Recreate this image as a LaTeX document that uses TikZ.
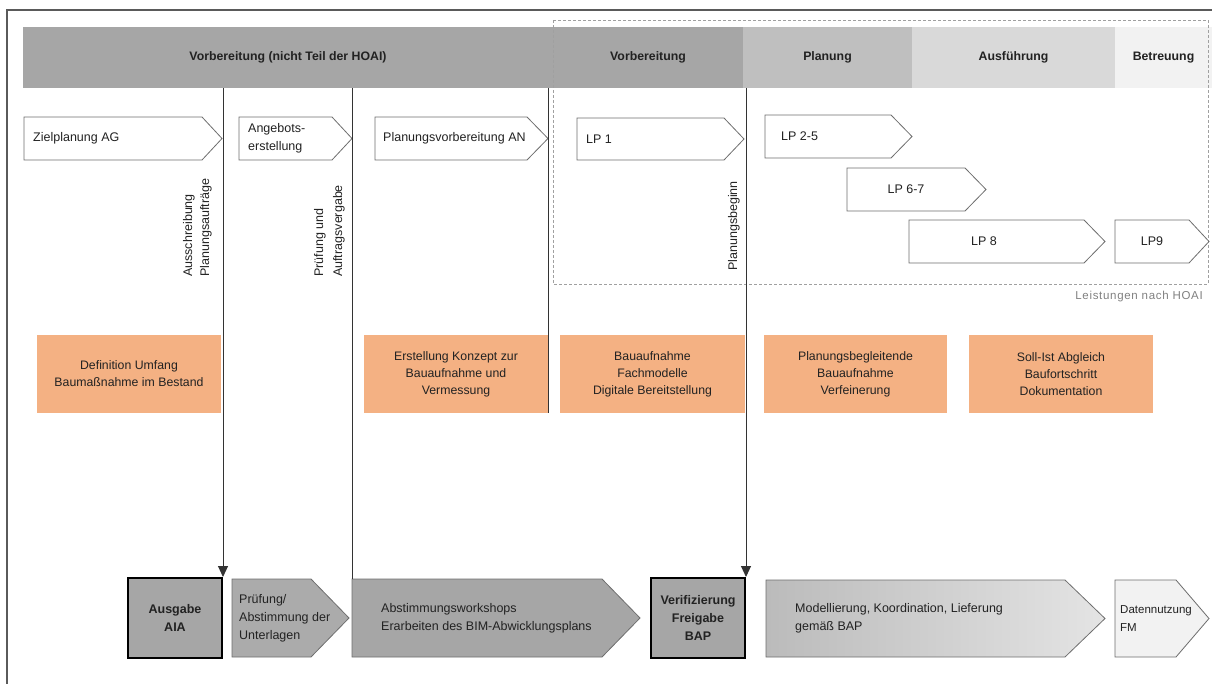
\documentclass[tikz,border=0pt]{standalone}
\usepackage{fontspec}
\setmainfont{Liberation Sans}
\usetikzlibrary{arrows.meta}
\definecolor{hdrA}{HTML}{A6A6A6}
\definecolor{hdrB}{HTML}{BFBFBF}
\definecolor{hdrC}{HTML}{D9D9D9}
\definecolor{hdrD}{HTML}{F2F2F2}
\definecolor{orng}{HTML}{F4B183}
\definecolor{txtc}{HTML}{222222}
\definecolor{edgec}{HTML}{6E6E6E}
\definecolor{gboxA}{HTML}{A6A6A6}
\definecolor{gboxB}{HTML}{ABABAB}
\definecolor{mgL}{HTML}{BBBBBB}
\definecolor{mgR}{HTML}{E4E4E4}
\definecolor{framec}{HTML}{5A5A5A}
\definecolor{linec}{HTML}{333333}
\definecolor{dashc}{HTML}{A0A0A0}
\definecolor{leistc}{HTML}{808080}
\newcommand\mkchev[7]{% name, style, x1, y1, xtip, y2, depth
  \path[#2] (#3,#4) -- ({#5-#7},#4) -- (#5,{(#4+#6)/2}) -- ({#5-#7},#6) -- (#3,#6) -- cycle;
  \coordinate (#1-nw) at (#3,#4);
  \coordinate (#1-w) at (#3,{(#4+#6)/2});
  \coordinate (#1-tip) at (#5,{(#4+#6)/2});
  \coordinate (#1-c) at ({(#3+#5-#7)/2},{(#4+#6)/2});
}
\tikzset{
  hdr/.style={fill=#1, draw=none, minimum height=61pt, inner sep=0pt,
    font=\fontsize{12.3}{14}\selectfont\bfseries, text=txtc},
  rowone/.style={draw=edgec, fill=white, line width=0.8pt},
  lowchev/.style={draw=edgec, fill=#1, line width=0.8pt},
  txt/.style={inner sep=0pt, text=txtc, font=\fontsize{12.5}{18}\selectfont},
  rottxt/.style={inner sep=0pt, text=txtc, rotate=90, align=left, font=\fontsize{12.5}{17}\selectfont},
  obox/.style={fill=orng, draw=none, minimum height=78pt, inner sep=0pt, align=center,
    text=txtc, font=\fontsize{12.3}{17}\selectfont},
  keybox/.style={fill=gboxA, draw=black, line width=2pt, minimum width=94pt, minimum height=80pt,
    inner sep=0pt, align=center, text=txtc, font=\fontsize{12.5}{18}\selectfont\bfseries},
  conn/.style={draw=linec, line width=1pt},
  tip/.style={-{Triangle[length=11pt,width=10pt]}},
  dashbox/.style={draw=dashc, line width=0.8pt, dash pattern=on 3pt off 2pt}
}
\begin{document}
\begin{tikzpicture}[x=1pt,y=-1pt]
\useasboundingbox (0,0) rectangle (1212,684);
% outer frame
\draw[framec, line width=1.2pt] (7,684) -- (7,10) -- (1212,10);
% header band
\node[hdr=hdrA, minimum width=530pt] (h1) at (288,57.5) {Vorbereitung (nicht Teil der HOAI)};
\node[hdr=hdrA, minimum width=190pt] (h2) at (648,57.5) {Vorbereitung};
\node[hdr=hdrB, minimum width=169pt] (h3) at (827.5,57.5) {Planung};
\node[hdr=hdrC, minimum width=203pt] (h4) at (1013.5,57.5) {Ausführung};
\node[hdr=hdrD, minimum width=97pt] (h5) at (1163.5,57.5) {Betreuung};
% HOAI dashed box
\draw[dashbox] (553,20) rectangle (1208,284);
\node[anchor=east, inner sep=0pt, text=leistc, font=\fontsize{11.5}{13}\selectfont\addfontfeature{LetterSpace=6}] (leist) at (1203,297) {Leistungen nach HOAI};
% row one chevrons
\mkchev{ziel}{rowone}{24}{117}{222}{160}{20}
\mkchev{ang}{rowone}{239}{117}{352}{160}{20}
\mkchev{pv}{rowone}{375}{117}{548}{160}{21}
\mkchev{lpa}{rowone}{577}{118}{744}{160}{20}
\mkchev{lpb}{rowone}{765}{115}{912}{158}{21}
\mkchev{lpc}{rowone}{847}{168}{986}{211}{21}
\mkchev{lpd}{rowone}{909}{220}{1105}{263}{21}
\mkchev{lpe}{rowone}{1115}{220}{1209}{263}{20}
\node[txt, anchor=west] (zielT) at ([xshift=9pt]ziel-w) {Zielplanung AG};
\node[txt, anchor=west, align=left] (angT) at ([xshift=9pt]ang-w) {Angebots-\\erstellung};
\node[txt, anchor=west] (pvT) at ([xshift=8pt]pv-w) {Planungsvorbereitung AN};
\node[txt, anchor=west] (lpaT) at ([xshift=9pt]lpa-w) {LP 1};
\node[txt, anchor=west] (lpbT) at ([xshift=16pt]lpb-w) {LP 2-5};
\node[txt] (lpcT) at (lpc-c) {LP 6-7};
\node[txt] (lpdT) at (984,241.5) {LP 8};
\node[txt] (lpeT) at (lpe-c) {LP9};
% rotated labels
\node[rottxt, anchor=south west] (ausT) at (212,277) {Ausschreibung\\Planungsaufträge};
\node[rottxt, anchor=south west, font=\fontsize{12.5}{19}\selectfont] (prT) at (345,277) {Prüfung und\\Auftragsvergabe};
\node[rottxt, anchor=south west] (pbT) at (740,271) {Planungsbeginn};
% orange boxes
\node[obox, minimum width=184pt] (o1) at (129,374) {Definition Umfang\\Baumaßnahme im Bestand};
\node[obox, minimum width=184pt] (o2) at (456,374) {Erstellung Konzept zur\\Bauaufnahme und\\Vermessung};
\node[obox, minimum width=185pt] (o3) at (652.5,374) {Bauaufnahme\\Fachmodelle\\Digitale Bereitstellung};
\node[obox, minimum width=183pt] (o4) at (855.5,374) {Planungsbegleitende\\Bauaufnahme\\Verfeinerung};
\node[obox, minimum width=184pt] (o5) at (1061,374) {Soll-Ist Abgleich\\Baufortschritt\\Dokumentation};
% bottom row
\node[keybox] (aia) at (175,618) {Ausgabe\\AIA};
\mkchev{pruef}{lowchev=gboxB}{232}{579}{349}{657}{38}
\mkchev{abst}{lowchev=gboxA}{352}{579}{640}{657}{38}
\node[keybox] (verif) at (698,618) {Verifizierung\\Freigabe\\BAP};
\mkchev{mod}{draw=edgec, line width=0.8pt, left color=mgL, right color=mgR}{766}{580}{1105}{657}{40}
\mkchev{daten}{lowchev=hdrD}{1115}{580}{1209}{657}{33}
\node[txt, anchor=west, align=left] (pruefT) at ([xshift=7pt]pruef-w) {Prüfung/\\Abstimmung der\\Unterlagen};
\node[txt, anchor=west, align=left] (abstT) at ([xshift=29pt]abst-w) {Abstimmungsworkshops\\Erarbeiten des BIM-Abwicklungsplans};
\node[txt, anchor=west, align=left] (modT) at ([xshift=29pt]mod-w) {Modellierung, Koordination, Lieferung\\gemäß BAP};
\node[txt, anchor=west, align=left, font=\fontsize{11.5}{18}\selectfont] (datenT) at ([xshift=5pt]daten-w) {Datennutzung\\FM};
% connectors
\draw[conn, tip] (aia.north east |- h1.south) -- (aia.north east);
\draw[conn] (abst-nw |- h1.south) -- (abst-nw);
\draw[conn] (o2.north east |- h1.south) -- (o2.south east);
\draw[conn, tip] (verif.north east |- h2.south) -- (verif.north east);
\end{tikzpicture}
\end{document}
